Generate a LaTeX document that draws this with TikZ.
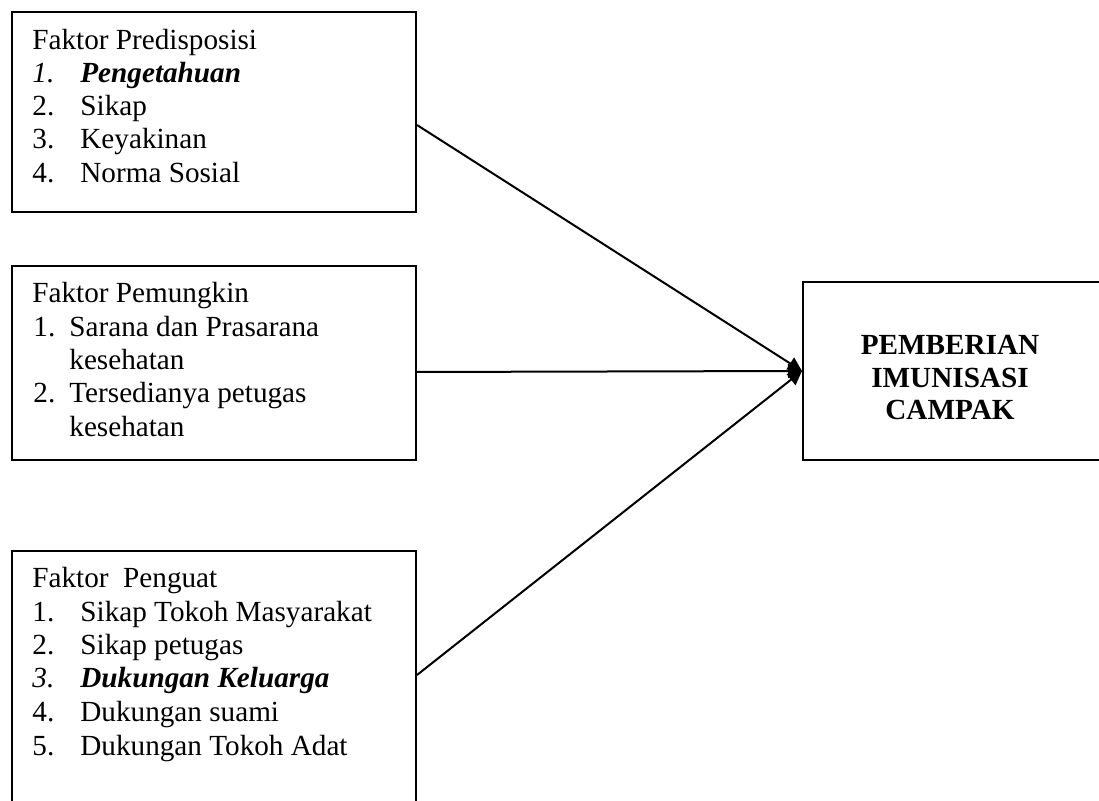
\documentclass[tikz,border=0pt]{standalone}
\usepackage{fontspec}
\setmainfont{Liberation Serif}
\usetikzlibrary{arrows.meta}
\begin{document}
\begin{tikzpicture}[x=0.5pt,y=-0.5pt,
  box/.style={draw,line width=1pt,inner sep=0pt,minimum width=202pt},
  txt/.style={anchor=base west,inner sep=0pt,font=\fontsize{14.6}{16.8}\selectfont},
  ctxt/.style={anchor=base,inner sep=0pt,font=\fontsize{14.6}{16.8}\selectfont\bfseries},
  conn/.style={line width=1pt,-{Triangle[length=7pt,width=7pt]}}]
\useasboundingbox (0,0) rectangle (1099,801);
% boxes
\node[box,minimum height=100pt] (b1) at (214,112) {};
\node[box,minimum height=97pt] (b2) at (214,363) {};
\node[box,minimum height=135pt] (b3) at (214,686) {};
\node[box,minimum width=149pt,minimum height=89pt] (b4) at (952,371) {};
% box 1 text
\node[txt] (t1a) at (32,50) {Faktor Predisposisi};
\node[txt] (t1b) at (32,83) {\textit{1.}};
\node[txt] (t1c) at (80,83) {\textbf{\textit{Pengetahuan}}};
\node[txt] (t1d) at (32,116) {2.};
\node[txt] (t1e) at (80,116) {Sikap};
\node[txt] (t1f) at (32,149) {3.};
\node[txt] (t1g) at (80,149) {Keyakinan};
\node[txt] (t1h) at (32,183) {4.};
\node[txt] (t1i) at (80,183) {Norma Sosial};
% box 2 text
\node[txt] (t2a) at (32,303) {Faktor Pemungkin};
\node[txt] (t2b) at (33,337) {1.};
\node[txt] (t2c) at (69,337) {Sarana dan Prasarana};
\node[txt] (t2d) at (69,370) {kesehatan};
\node[txt] (t2e) at (33,403) {2.};
\node[txt] (t2f) at (69,403) {Tersedianya petugas};
\node[txt] (t2g) at (69,437) {kesehatan};
% box 3 text
\node[txt] (t3a) at (32,588) {Faktor\ \ Penguat};
\node[txt] (t3b) at (32,622) {1.};
\node[txt] (t3c) at (80,622) {Sikap Tokoh Masyarakat};
\node[txt] (t3d) at (32,655) {2.};
\node[txt] (t3e) at (80,655) {Sikap petugas};
\node[txt] (t3f) at (32,688) {\textit{3.}};
\node[txt] (t3g) at (80,688) {\textbf{\textit{Dukungan Keluarga}}};
\node[txt] (t3h) at (32,722) {4.};
\node[txt] (t3i) at (80,722) {Dukungan suami};
\node[txt] (t3j) at (32,756) {5.};
\node[txt] (t3k) at (80,756) {Dukungan Tokoh Adat};
% box 4 text
\node[ctxt] (t4a) at (950,355) {PEMBERIAN};
\node[ctxt] (t4b) at (950,388) {IMUNISASI};
\node[ctxt] (t4c) at (950,420) {CAMPAK};
% connectors
\draw[conn] ([yshift=-6.5pt]b1.east) -- (b4.west);
\draw[conn] ([yshift=-4.5pt]b2.east) -- (b4.west);
\draw[conn] ([yshift=5.5pt]b3.east) -- (b4.west);
\end{tikzpicture}
\end{document}
